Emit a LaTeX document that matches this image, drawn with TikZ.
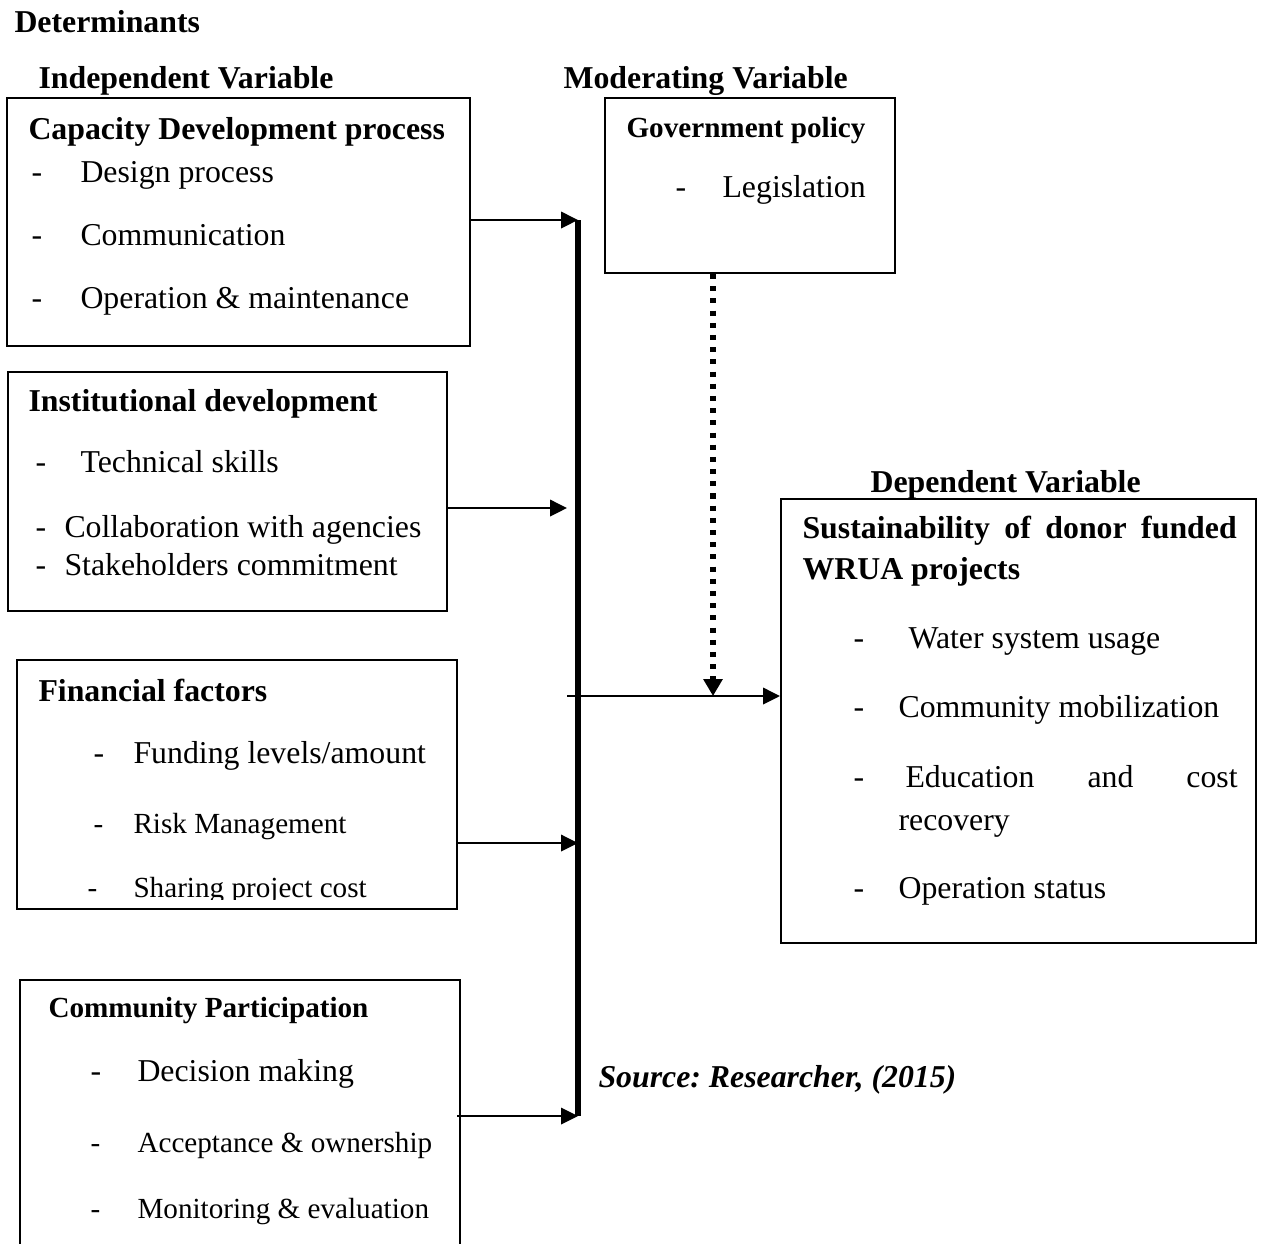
\documentclass[tikz,border=0pt]{standalone}
\usepackage{fontspec}
\setmainfont{Liberation Serif}
\usetikzlibrary{arrows.meta, fit}
\frenchspacing

\tikzset{
    box/.style={draw, line width=0.75pt, inner sep=0pt},
    txt/.style={anchor=base west, inner sep=0pt, font=\fontsize{12}{14}\selectfont},
    stxt/.style={txt, font=\fontsize{11}{13}\selectfont},
    head/.style={txt, font=\fontsize{12}{14}\selectfont\bfseries},
    shead/.style={txt, font=\fontsize{11}{13}\selectfont\bfseries},
    arr/.style={-{Triangle[length=6.4pt, width=6.2pt]}, line width=0.8pt},
    dotarr/.style={-{Triangle[length=6.4pt, width=7pt]}, line width=1.9pt, dash pattern=on 1.9pt off 2.7pt},
}

\begin{document}
\begin{tikzpicture}[x=0.013264cm, y=-0.013264cm]

    \clip (0,0) rectangle (1261,1243);

    % ==========================================
    % Headings
    % ==========================================
    \node[head] (det) at (14,32) {Determinants};
    \node[head] (indep) at (38,88) {Independent Variable};
    \node[head] (moder) at (563,88) {Moderating Variable};
    \node[head] (depvar) at (870,492) {Dependent Variable};

    % ==========================================
    % Boxes
    % ==========================================
    \node[box, fit={(7,98) (470,346)}] (capbox) {};
    \node[box, fit={(605,98) (895,273)}] (govbox) {};
    \node[box, fit={(8,372) (447,611)}] (instbox) {};
    \node[box, fit={(17,660) (457,909)}] (finbox) {};
    \node[box, fit={(20,980) (460,1260)}] (combox) {};
    \node[box, fit={(781,499) (1256,943)}] (depbox) {};

    % ==========================================
    % Capacity development
    % ==========================================
    \node[head] (captitle) at (28,139) {Capacity Development process};
    \foreach \y/\t [count=\i] in {182/Design process, 245/Communication, 308/Operation \& maintenance} {
        \node[txt] (capdash\i) at (31,\y) {-};
        \node[txt] (capitem\i) at (80,\y) {\t};
    }

    % ==========================================
    % Government policy
    % ==========================================
    \node[shead] (govtitle) at (626,137) {Government policy};
    \node[txt] (govdash) at (675,197) {-};
    \node[txt] (govitem) at (722,197) {Legislation};

    % ==========================================
    % Institutional development
    % ==========================================
    \node[head] (insttitle) at (28,411) {Institutional development};
    \node[txt] (instdash1) at (35,472) {-};
    \node[txt] (institem1) at (80,472) {Technical skills};
    \node[txt] (instdash2) at (35,537) {-};
    \node[txt] (institem2) at (64,537) {Collaboration with agencies};
    \node[txt] (instdash3) at (35,575) {-};
    \node[txt] (institem3) at (64,575) {Stakeholders commitment};

    % ==========================================
    % Financial factors
    % ==========================================
    \node[head] (fintitle) at (38,701) {Financial factors};
    \node[txt] (findash1) at (93,763) {-};
    \node[txt] (finitem1) at (133,763) {Funding levels/amount};
    \node[stxt] (findash2) at (93,833) {-};
    \node[stxt] (finitem2) at (133,833) {Risk Management};
    \begin{scope}
        \clip (finbox.north west) rectangle (finbox.east |- 0,899);
        \node[stxt] (findash3) at (87,897) {-};
        \node[stxt] (finitem3) at (133,897) {Sharing project cost};
    \end{scope}

    % ==========================================
    % Community participation
    % ==========================================
    \node[shead] (comtitle) at (48,1017) {Community Participation};
    \node[txt] (comdash1) at (90,1081) {-};
    \node[txt] (comitem1) at (137,1081) {Decision making};
    \node[stxt] (comdash2) at (90,1152) {-};
    \node[stxt] (comitem2) at (137,1152) {Acceptance \& ownership};
    \node[stxt] (comdash3) at (90,1218) {-};
    \node[stxt] (comitem3) at (137,1218) {Monitoring \& evaluation};

    % ==========================================
    % Sustainability (dependent)
    % ==========================================
    \node[head] (deptitle1) at (802,538) {\hbox to 163.8pt{Sustainability\hfill of\hfill donor\hfill funded}};
    \node[head] (deptitle2) at (802,579) {WRUA projects};
    \node[txt] (depdash1) at (853,648) {-};
    \node[txt] (depitem1) at (908,648) {Water system usage};
    \node[txt] (depdash2) at (853,717) {-};
    \node[txt] (depitem2) at (898,717) {Community mobilization};
    \node[txt] (depdash3) at (853,787) {-};
    \node[txt] (depitem3) at (905,787) {\hbox to 125.3pt{Education\hfill and\hfill cost}};
    \node[txt] (depitem3b) at (898,830) {recovery};
    \node[txt] (depdash4) at (853,898) {-};
    \node[txt] (depitem4) at (898,898) {Operation status};

    \node[head, font=\fontsize{12}{14}\selectfont\bfseries\itshape] (source) at (598,1087) {Source: Researcher, (2015)};

    % ==========================================
    % Connectors
    % ==========================================
    \coordinate (bartop) at (578,220);
    \coordinate (barbot) at (578,1116);
    \coordinate (in2) at (567,508);
    \coordinate (in3) at (578,843);
    \coordinate (barmid) at (567,696);
    \coordinate (govin) at (713,696);

    \draw[line width=1.9pt] (bartop) -- (barbot);
    \draw[arr] (capbox.east |- bartop) -- (bartop);
    \draw[arr] (instbox.east |- in2) -- (in2);
    \draw[arr] (finbox.east |- in3) -- (in3);
    \draw[arr] ([xshift=-1.5pt]combox.east |- barbot) -- (barbot);
    \draw[arr] (barmid) -- (depbox.west |- barmid);
    \draw[dotarr] (govbox.south -| govin) -- (govin);

\end{tikzpicture}
\end{document}
